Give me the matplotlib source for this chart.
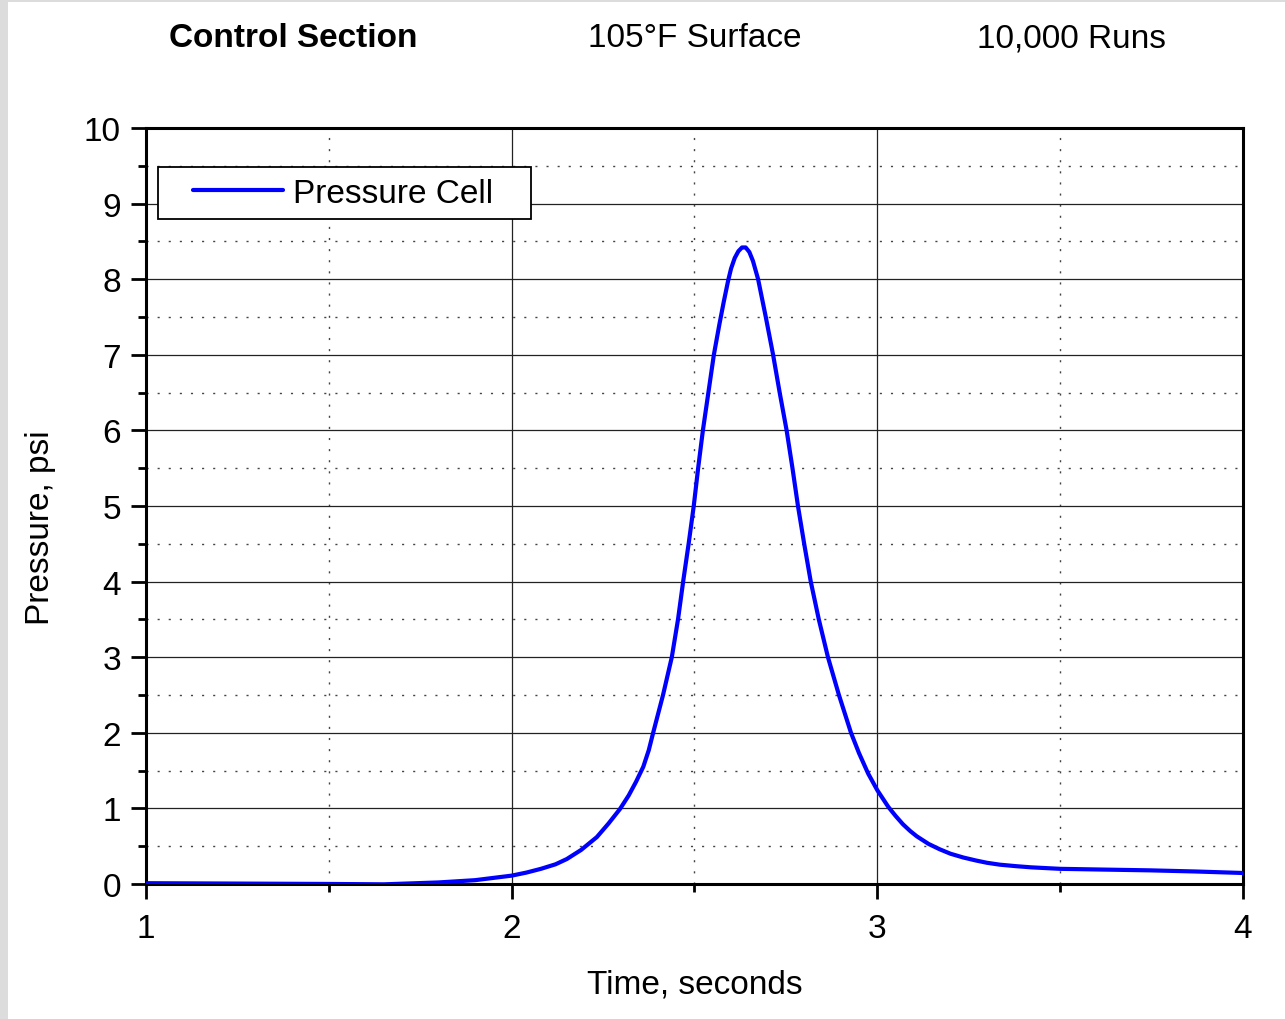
import matplotlib
matplotlib.use("Agg")
import matplotlib.pyplot as plt
from matplotlib.patches import Rectangle
from matplotlib.ticker import MultipleLocator

plt.rcParams['font.family'] = ['Liberation Sans', 'DejaVu Sans']

# valeurs
time_s = [1.0, 1.25, 1.5, 1.65, 1.8, 1.9, 2.0, 2.04, 2.08, 2.12, 2.151, 2.19,
          2.233, 2.265, 2.296, 2.32, 2.34, 2.36, 2.375, 2.387, 2.414, 2.438,
          2.455, 2.469, 2.484, 2.498, 2.51, 2.523, 2.538, 2.553, 2.568, 2.58,
          2.592, 2.60, 2.61, 2.62, 2.63, 2.64, 2.65, 2.66, 2.674, 2.695, 2.715,
          2.733, 2.752, 2.768, 2.783, 2.80, 2.818, 2.84, 2.865, 2.895, 2.928,
          2.95, 2.975, 3.0, 3.03, 3.05, 3.07, 3.09, 3.108, 3.14, 3.17, 3.2,
          3.235, 3.27, 3.3, 3.335, 3.38, 3.42, 3.5, 3.62, 3.745, 3.87, 4.0]
pressure_psi = [0.01, 0.005, 0.0, -0.005, 0.02, 0.05, 0.11, 0.15, 0.2, 0.26,
                0.33, 0.45, 0.62, 0.8, 0.99, 1.17, 1.35, 1.55, 1.77, 2.0, 2.5,
                3.0, 3.5, 4.0, 4.5, 5.0, 5.5, 6.0, 6.5, 7.0, 7.4, 7.7, 7.98,
                8.14, 8.28, 8.37, 8.42, 8.42, 8.36, 8.24, 8.0, 7.5, 7.0, 6.5,
                6.0, 5.5, 5.0, 4.5, 4.0, 3.5, 3.0, 2.5, 2.0, 1.73, 1.46, 1.24,
                1.02, 0.9, 0.79, 0.7, 0.63, 0.53, 0.46, 0.4, 0.35, 0.31, 0.28,
                0.255, 0.235, 0.22, 0.2, 0.19, 0.18, 0.165, 0.145]

header_texts = ['Control Section', '105°F Surface', '10,000 Runs']
header_x = [0.228, 0.541, 0.834]

fig = plt.figure(figsize=(12.85, 10.2), dpi=100)
ax = fig.add_axes([0.1136, 0.1324, 0.8537, 0.7411])

# cadre gris à gauche et en haut
fig.patches.append(Rectangle((0, 0), 8 / 1285, 1, transform=fig.transFigure,
                             facecolor='#dcdcdc', edgecolor='none'))
fig.patches.append(Rectangle((0, 1 - 3 / 1020), 1, 3 / 1020, transform=fig.transFigure,
                             facecolor='#dcdcdc', edgecolor='none'))

ax.plot(time_s, pressure_psi, color='#0000ff', linewidth=3.0, label='Pressure Cell',
        solid_capstyle='round', solid_joinstyle='round', zorder=3)

ax.set_xlim(1, 4)
ax.set_ylim(0, 10)
ax.xaxis.set_major_locator(MultipleLocator(1))
ax.xaxis.set_minor_locator(MultipleLocator(0.5))
ax.yaxis.set_major_locator(MultipleLocator(1))
ax.yaxis.set_minor_locator(MultipleLocator(0.5))

ax.grid(True, which='major', color='#222222', linewidth=0.9, linestyle='-')
ax.grid(True, which='minor', color='#444444', linewidth=1.0, linestyle=(0, (1.5, 6.5)))
ax.set_axisbelow(True)

for s in ax.spines.values():
    s.set_linewidth(2.2)
    s.set_color('black')

ax.tick_params(which='major', direction='out', length=11, width=2, labelsize=24,
               pad=7, top=False, right=False)
ax.tick_params(axis='x', which='major', pad=10)
ax.tick_params(which='minor', direction='out', length=6, width=2, top=False, right=False)

ax.set_xlabel('Time, seconds', fontsize=24)
ax.set_ylabel('Pressure, psi', fontsize=24)
ax.xaxis.set_label_coords(0.5005, -0.132)
ax.yaxis.set_label_coords(-0.0966, 0.472)
ax.xaxis.label.set_va('center')
ax.yaxis.label.set_va('center')

for txt, xx in zip(header_texts, header_x):
    fig.text(xx, 0.962, txt, fontsize=24, ha='center', va='center',
             fontweight='bold' if txt == 'Control Section' else 'normal')

# cadre de la légende dessiné à part (marges horizontales plus larges)
ax.add_patch(Rectangle((0.0109, 0.8796), 0.340, 0.0688, transform=ax.transAxes,
                       facecolor='white', edgecolor='black', linewidth=1.3, zorder=4))
leg = ax.legend(loc='center left', bbox_to_anchor=(0.0428, 0.914), fontsize=24,
                handlelength=2.7, handletextpad=0.3, borderpad=0, borderaxespad=0,
                frameon=False)
leg.set_zorder(5)

fig.savefig('out.png', dpi=100, facecolor='white')
